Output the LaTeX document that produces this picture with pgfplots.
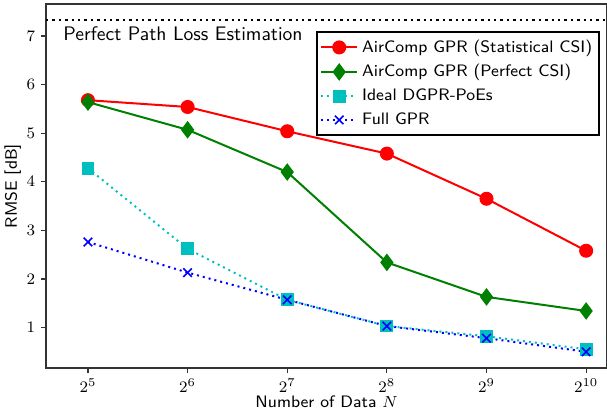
\documentclass[border=0pt]{standalone}
\usepackage{pgfplots}
\pgfplotsset{compat=1.18}
\usetikzlibrary{calc}
\renewcommand{\familydefault}{\sfdefault}
\definecolor{mplgreen}{rgb}{0,0.5,0}
\definecolor{mplcyan}{rgb}{0,0.75,0.75}
\begin{document}
\fontsize{8.3}{10}\selectfont
\begin{tikzpicture}
\begin{axis}[
    scale only axis,
    width=280.5pt,
    height=182pt,
    xmode=log,
    log basis x=2,
    xmin=23.9, xmax=1184,
    ymin=0.166, ymax=7.66,
    xtick={32,64,128,256,512,1024},
    ytick={1,2,3,4,5,6,7},
    xminorticks=false,
    tick align=outside,
    xtick pos=bottom,
    ytick pos=left,
    major tick length=2.5pt,
    tick style={black!80, line width=0.6pt},
    axis line style={black!80, line width=0.8pt},
    xlabel={Number of Data $N$},
    ylabel={RMSE [dB]},
    xlabel style={yshift=4pt},
    ylabel style={yshift=-3pt},
    legend cell align=left,
    legend image code/.code={
        \draw[mark repeat=2,mark phase=2] plot coordinates {(0pt,0pt) (9pt,0pt) (18pt,0pt)};
    },
    legend style={at={(0.9875,0.926)}, anchor=north east, draw=black, line width=0.8pt,
        font=\fontsize{8.3}{10}\selectfont, row sep=1.6pt, inner xsep=1.5pt, inner ysep=2.5pt,
        nodes={inner ysep=1.6pt, inner xsep=2pt}},
]
\addplot[black, dotted, line width=1.2pt, forget plot] coordinates {(23.9,7.33) (1184,7.33)};
% AirComp GPR (Statistical CSI)
\addplot[red, line width=1pt, mark=*, mark size=3pt] coordinates {
    (32,5.68) (64,5.54) (128,5.04) (256,4.58) (512,3.65) (1024,2.58)
};
\addlegendentry{AirComp GPR (Statistical CSI)}
% AirComp GPR (Perfect CSI)
\addplot[mplgreen, line width=1pt, mark=diamond*, mark size=3.6pt] coordinates {
    (32,5.64) (64,5.07) (128,4.20) (256,2.34) (512,1.63) (1024,1.34)
};
\addlegendentry{AirComp GPR (Perfect CSI)}
% Ideal DGPR-PoEs
\addplot[mplcyan, dotted, line width=1pt, mark=square*, mark size=2.7pt, mark options={solid}] coordinates {
    (32,4.28) (64,2.62) (128,1.57) (256,1.03) (512,0.82) (1024,0.55)
};
\addlegendentry{Ideal DGPR-PoEs}
% Full GPR
\addplot[blue, dotted, line width=1pt, mark=x, mark size=3pt, mark options={solid, line width=0.8pt}] coordinates {
    (32,2.76) (64,2.13) (128,1.57) (256,1.03) (512,0.78) (1024,0.50)
};
\addlegendentry{Full GPR}
\node[anchor=west] at (axis cs:25.9,7.04) {\fontsize{9.8}{12}\selectfont Perfect Path Loss Estimation};
\end{axis}
\pgfresetboundingbox
\path[use as bounding box] ($(current axis.south west)+(-23pt,-23pt)$) rectangle ($(current axis.north east)+(0pt,2pt)$);
\end{tikzpicture}
\end{document}
